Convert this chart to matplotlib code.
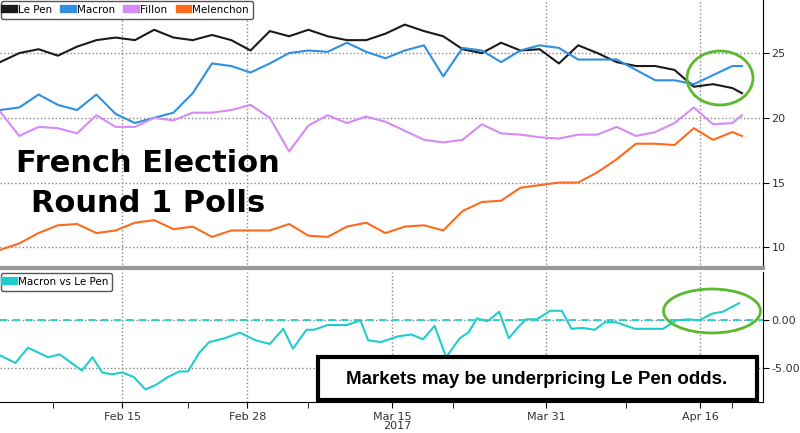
import matplotlib
matplotlib.use("Agg")
import matplotlib.pyplot as plt
from matplotlib.patches import Ellipse, Rectangle

# day offsets (day 0 ~ Feb 2)
days = list(range(0, 77, 2)) + [77]
le_pen = [24.3, 25.0, 25.3, 24.8, 25.5, 26.0, 26.2, 26.0, 26.8, 26.2,
          26.0, 26.4, 26.0, 25.2, 26.7, 26.3, 26.8, 26.3, 26.0, 26.0,
          26.5, 27.2, 26.7, 26.3, 25.3, 25.0, 25.8, 25.2, 25.3, 24.2,
          25.6, 25.0, 24.3, 24.0, 24.0, 23.7, 22.4, 22.6, 22.3, 21.9]
macron = [20.6, 20.8, 21.8, 21.0, 20.6, 21.8, 20.3, 19.6, 20.0, 20.4,
          21.9, 24.2, 24.0, 23.5, 24.2, 25.0, 25.2, 25.1, 25.8, 25.1,
          24.6, 25.2, 25.6, 23.2, 25.4, 25.2, 24.3, 25.2, 25.6, 25.4,
          24.5, 24.5, 24.5, 23.7, 22.9, 22.9, 22.6, 23.3, 24.0, 24.0]
fillon = [20.5, 18.6, 19.3, 19.2, 18.8, 20.2, 19.3, 19.3, 20.0, 19.8,
          20.4, 20.4, 20.6, 21.0, 20.0, 17.4, 19.4, 20.2, 19.6, 20.1,
          19.7, 19.0, 18.3, 18.1, 18.3, 19.5, 18.8, 18.7, 18.5, 18.4,
          18.7, 18.7, 19.3, 18.6, 18.9, 19.6, 20.8, 19.5, 19.6, 20.2]
melenchon = [9.8, 10.3, 11.1, 11.7, 11.8, 11.1, 11.3, 11.9, 12.1, 11.4,
             11.6, 10.8, 11.3, 11.3, 11.3, 11.8, 10.9, 10.8, 11.6, 11.9,
             11.1, 11.6, 11.7, 11.3, 12.8, 13.5, 13.6, 14.6, 14.8, 15.0,
             15.0, 15.8, 16.8, 18.0, 18.0, 17.9, 19.2, 18.3, 18.9, 18.6]

spread_days = [0, 1.6, 2.9, 5.0, 6.2, 8.5, 9.6, 10.6, 11.6, 12.7,
               13.9, 15.1, 16.2, 17.4, 18.6, 19.5, 20.7, 21.7, 23.3, 24.9,
               26.5, 28.0, 29.4, 30.4, 31.8, 32.6, 34.0, 36.0, 37.4, 38.2,
               39.5, 41.3, 42.7, 43.9, 45.1, 46.3, 47.7, 48.6, 49.5, 50.6,
               51.8, 52.8, 53.8, 54.6, 55.7, 57.1, 58.3, 59.3, 60.4, 61.7,
               62.8, 63.9, 65.9, 68.8, 70.2, 71.5, 72.6, 73.9, 75.0, 76.7]
spread = [-3.7, -4.5, -2.9, -3.9, -3.6, -5.3, -3.9, -5.5, -5.7, -5.5,
          -6, -7.3, -6.8, -6, -5.4, -5.4, -3.4, -2.3, -1.9, -1.3,
          -2.1, -2.5, -0.9, -3, -1, -1, -0.5, -0.5, 0, -2.1,
          -2.3, -1.7, -1.5, -2, -0.6, -3.9, -1.9, -1.3, 0.2, -0.1,
          0.9, -1.9, -0.7, 0.1, 0.1, 1, 1, -0.9, -0.8, -1,
          -0.2, -0.2, -0.9, -0.9, 0, 0.1, 0, 0.7, 0.9, 1.8]

tick_days = [12.67, 25.67, 40.67, 56.67, 72.67]
tick_labels = ['Feb 15', 'Feb 28', 'Mar 15', 'Mar 31', 'Apr 16']

fig = plt.figure(figsize=(8, 4.33), dpi=100)
ax1 = fig.add_axes([0, 0.381, 0.954, 0.619])
ax2 = fig.add_axes([0, 0.072, 0.954, 0.300])

ax1.plot(days, le_pen, color='#1a1a1a', lw=1.5, label='Le Pen')
ax1.plot(days, macron, color='#2f8fe0', lw=1.5, label='Macron')
ax1.plot(days, fillon, color='#d58af5', lw=1.5, label='Fillon')
ax1.plot(days, melenchon, color='#ff6a1a', lw=1.5, label='Melenchon')
ax1.set_ylim(8.4, 29.1)
ax1.set_yticks([10, 15, 20, 25])

ax2.plot(spread_days, spread, color='#22cccc', lw=1.5, label='Macron vs Le Pen')
ax2.axhline(0, color='#22cccc', lw=1.3, ls=(0, (4, 3)))
ax2.set_ylim(-8.6, 5.1)
ax2.set_yticks([-5, 0])
ax2.set_yticklabels(['-5.00', '0.00'])

for ax in (ax1, ax2):
    ax.set_xlim(0, 79.2)
    ax.set_xticks(tick_days)
    ax.yaxis.tick_right()
    ax.spines['left'].set_visible(False)
    ax.spines['top'].set_visible(False)
    ax.grid(True, ls=':', color='#888888', lw=1)
    ax.tick_params(axis='y', labelsize=8, labelcolor='#333333', direction='out',
                   length=4, pad=2)
    ax.tick_params(axis='x', labelsize=8, labelcolor='#333333', direction='out', length=4)
    leg = ax.legend(loc='upper left', ncol=4, fontsize=7.5, handlelength=0.8,
                    handleheight=0.8, borderaxespad=0.1, columnspacing=1.2,
                    handletextpad=0.4, fancybox=True, framealpha=1,
                    edgecolor='#555555')
    for h in leg.legend_handles:
        h.set_linewidth(6)

ax1.set_xticklabels([])
ax1.tick_params(axis='x', length=0)
ax1.xaxis.get_gridlines()[2].set_visible(False)
ax1.spines['bottom'].set_color('#999999')
ax1.spines['bottom'].set_linewidth(3)
ax2.set_xticklabels(tick_labels)
ax2.set_xticks([5.5, 19.5, 32, 47, 65, 76], minor=True)
ax2.tick_params(axis='x', which='minor', length=4)

fig.text(148 / 800, 1 - 163 / 433, 'French Election', ha='center', va='center',
         fontsize=22, fontweight='bold')
fig.text(148 / 800, 1 - 204 / 433, 'Round 1 Polls', ha='center', va='center',
         fontsize=22, fontweight='bold')
fig.text(397 / 800, 1 - 426 / 433, '2017', ha='center', va='center',
         fontsize=8, color='#333333')

fig.patches.append(Rectangle((318 / 800, 1 - 400 / 433), 439 / 800, 43 / 433,
                             transform=fig.transFigure, fill=True, fc='white',
                             ec='black', lw=3, zorder=5))
fig.text(537 / 800, 1 - 379 / 433, 'Markets may be underpricing Le Pen odds.',
         ha='center', va='center', fontsize=13.5, fontweight='bold',
         family=['Liberation Sans', 'DejaVu Sans'], zorder=6)

for cx, cy, w, h in [(720, 78, 66, 54), (712, 311, 97, 44)]:
    fig.patches.append(Ellipse((cx / 800, 1 - cy / 433), w / 800, h / 433,
                               transform=fig.transFigure, fill=False,
                               ec='#5cb82c', lw=2, zorder=5))

fig.savefig('out.png', dpi=100)
